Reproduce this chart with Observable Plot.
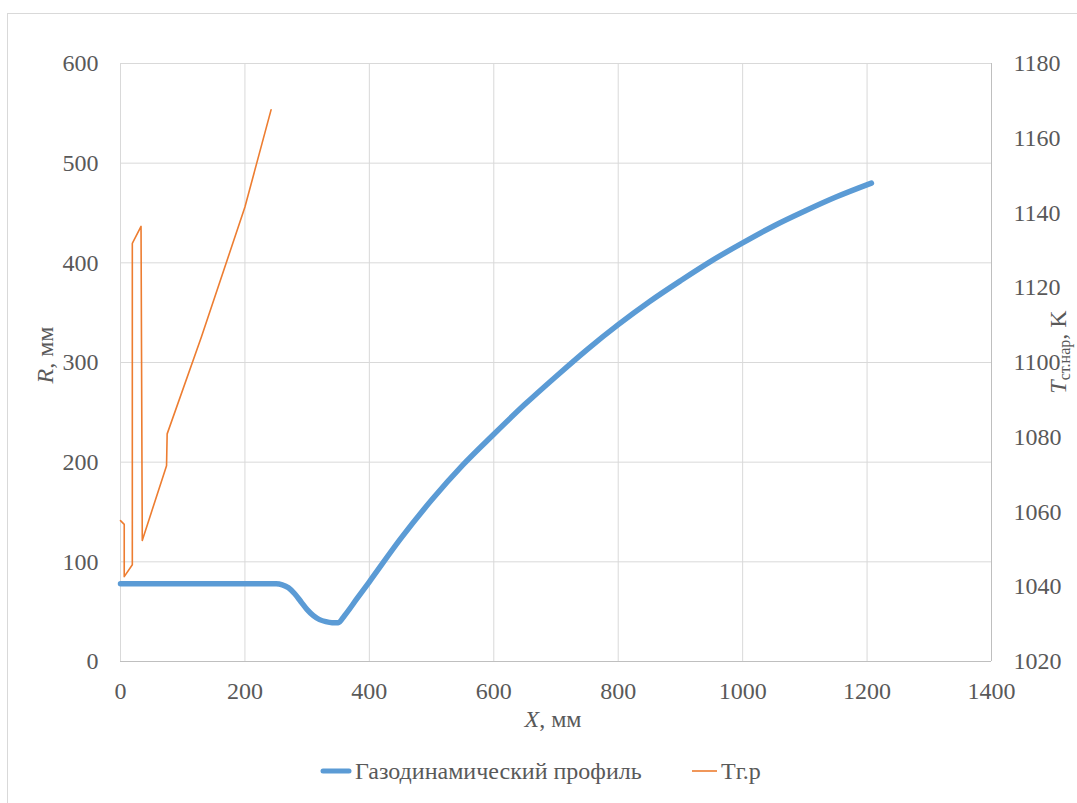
<!DOCTYPE html>
<html>
<head>
<meta charset="utf-8">
<script src="https://cdn.jsdelivr.net/npm/d3@7"></script>
<script src="https://cdn.jsdelivr.net/npm/@observablehq/plot@0.6"></script>
<style>
  html, body { margin: 0; padding: 0; background: #fff; overflow: hidden; width: 1077px; height: 803px; }
  #frame { position: absolute; left: 7px; top: 13px; width: 1090px; height: 810px; border: 1px solid #d9d9d9; box-sizing: border-box; }
  #chart { position: absolute; left: 0; top: 0; }
  .leg { position: absolute; top: 756px; font-family: "Liberation Serif", serif; font-size: 24px; color: #595959; display: flex; align-items: center; white-space: nowrap; }
  .leg svg { margin-right: 2px; }
</style>
</head>
<body>
<div id="frame"></div>
<div id="chart"></div>
<div class="leg" style="left:319px"><svg width="34" height="30"><line x1="4" y1="15" x2="30" y2="15" stroke="#5B9BD5" stroke-width="5" stroke-linecap="round"/></svg><span>Газодинамический профиль</span></div>
<div class="leg" style="left:690px"><svg width="29" height="30"><line x1="2" y1="15" x2="27" y2="15" stroke="#ED7D31" stroke-width="1.6"/></svg><span>Тг.р</span></div>
<script>
// Gas-dynamic profile: X (mm) -> R (mm)
const profX = [0, 50, 100, 150, 200, 250, 260, 270, 280, 290, 300, 310, 320, 330, 340, 350, 360, 380, 400, 450, 500, 550, 600, 650, 700, 750, 800, 850, 900, 950, 1000, 1050, 1100, 1150, 1207];
const profR = [78, 78, 78, 78, 78, 78, 77, 74, 68, 60, 52, 46, 42, 40, 39, 39, 46, 63, 80, 123, 162, 197, 228, 258, 286, 313, 338, 361, 382, 402, 420, 437, 452, 466, 480];

// Tг.р: X (mm) -> T (K), right axis
const tempX = [0, 6, 6, 19, 19, 33, 35, 74, 75, 130, 200, 242];
const tempT = [1057.7, 1056.7, 1042.7, 1045.9, 1131.9, 1136.4, 1052.4, 1072.4, 1080.9, 1106.8, 1141.6, 1167.6];

const xTicks = [0, 200, 400, 600, 800, 1000, 1200, 1400];
const yTicks = [0, 100, 200, 300, 400, 500, 600];
const tTicks = [1020, 1040, 1060, 1080, 1100, 1120, 1140, 1160, 1180];

const rMax = 600, tMin = 1020, tMax = 1180;
const tToR = t => (t - tMin) / (tMax - tMin) * rMax;
const rToT = r => tMin + r / rMax * (tMax - tMin);

const profile = profX.map((x, i) => ({x, r: profR[i]}));
const temp = tempX.map((x, i) => ({x, t: tempT[i]}));

const grid = "#d9d9d9";
const font = '"Liberation Serif", serif';

const plot = Plot.plot({
  width: 1077, height: 740, marginLeft: 120, marginRight: 86, marginTop: 63, marginBottom: 79,
  style: {fontFamily: font, fontSize: "24px", color: "#595959", background: "transparent", overflow: "visible"},
  x: {domain: [0, 1400]}, y: {domain: [0, 600]},
  marks: [
    Plot.gridX(xTicks, {stroke: grid, strokeOpacity: 1}),
    Plot.gridY(yTicks, {stroke: grid, strokeOpacity: 1}),
    Plot.ruleY([0], {stroke: "#bfbfbf"}),
    Plot.ruleX([1400], {stroke: "#bfbfbf"}),
    Plot.axisY(yTicks, {anchor: "left", tickSize: 0, tickPadding: 22, label: null, fontSize: 24, tickFormat: d => String(d)}),
    Plot.axisY(tTicks.map(tToR), {anchor: "right", tickSize: 0, tickPadding: 22, label: null, tickFormat: d => String(Math.round(rToT(d))), fontSize: 24}),
    Plot.axisX(xTicks, {anchor: "bottom", tickSize: 0, tickPadding: 20, label: null, fontSize: 24, tickFormat: d => String(d)}),
    Plot.line(profile, {x: "x", y: "r", stroke: "#5B9BD5", strokeWidth: 5.5, curve: "monotone-x", strokeLinecap: "round"}),
    Plot.line(temp, {x: "x", y: d => tToR(d.t), stroke: "#ED7D31", strokeWidth: 1.6})
  ]
});

const svg = d3.select(plot);
svg.selectAll("text").style("font-family", font);
// Left axis title
const lt = svg.append("text").attr("transform", "translate(53,355) rotate(-90)").attr("text-anchor", "middle").attr("fill", "#595959").style("font-family", font).style("font-size", "24px");
lt.append("tspan").attr("font-style", "italic").text("R");
lt.append("tspan").text(", мм");
// Bottom axis title
const bt = svg.append("text").attr("x", 553).attr("y", 727).attr("text-anchor", "middle").attr("fill", "#595959").style("font-family", font).style("font-size", "24px");
bt.append("tspan").attr("font-style", "italic").text("X");
bt.append("tspan").text(", мм");
// Right axis title
const rt = svg.append("text").attr("transform", "translate(1066,352) rotate(-90)").attr("text-anchor", "middle").attr("fill", "#595959").style("font-family", font).style("font-size", "24px");
rt.append("tspan").attr("font-style", "italic").text("T");
rt.append("tspan").attr("font-size", "16px").attr("dy", "4").text("ст.нар");
rt.append("tspan").attr("dy", "-4").text(", K");

document.getElementById("chart").appendChild(plot);
</script>
</body>
</html>
